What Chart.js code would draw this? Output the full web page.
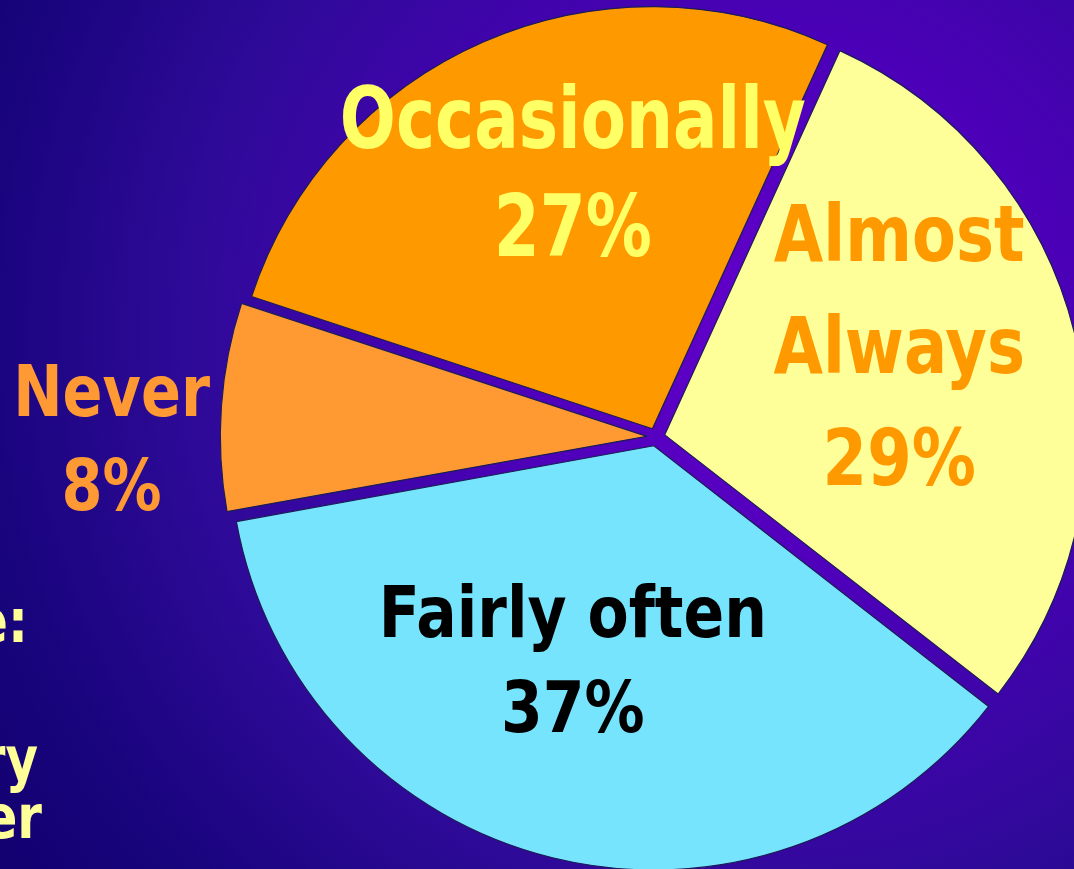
<!DOCTYPE html>
<html>
<head>
<meta charset="utf-8">
<script src="https://cdn.jsdelivr.net/npm/chart.js@4.4.1/dist/chart.umd.min.js"></script>
<style>
  html, body {
    margin: 0;
    padding: 0;
    width: 1074px;
    height: 869px;
    overflow: hidden;
    background: radial-gradient(circle at 72% 38%, #6400cc 0%, #4c00b8 30%, #2e0a98 62%, #18047c 85%, #120070 100%);
  }
  #pie { display: block; }
</style>
</head>
<body>
<canvas id="pie" width="1074" height="869"></canvas>
<script>
// slices, clockwise from the top-right gap
var categories = ['Almost Always', 'Fairly often', 'Never', 'Occasionally'];
var labelLines = [['Almost', 'Always'], ['Fairly often'], ['Never'], ['Occasionally']];
var percents = [29, 37, 8, 27];

var sliceColors = ['#FFFF99', '#77E4FD', '#FF9A33', '#FF9900'];

// text that belongs to the slide, cut off at the left edge
var sideText = ['e:', 'ry', 'er'];

// where each label sits: turn = degrees off the slice middle, dist = share of radius
var labelStyles = [
    { color: '#FF9900', size: 64, stretch: 1.22, gap: 112, turn: -7.1, dist: 0.617 },
    { color: '#000000', size: 60, stretch: 1.19, gap: 95, turn: 6.8, dist: 0.56 },
    { color: '#FF9933', size: 59, stretch: 1.21, gap: 94, turn: -4.0, dist: 1.29 },
    { color: '#FFFF66', size: 66, stretch: 1.3, gap: 108, turn: 6.3, dist: 0.662 }
];

var sliceLabels = {
    id: 'sliceLabels',
    afterDatasetsDraw: function(chart, args, opts) {
        var ctx = chart.ctx;
        var arcs = chart.getDatasetMeta(0).data;
        arcs.forEach(function(arc, i) {
            var st = opts.styles[i];
            var p = arc.getProps(['x', 'y', 'startAngle', 'endAngle', 'outerRadius'], true);
            var mid = (p.startAngle + p.endAngle) / 2 + st.turn * Math.PI / 180;
            var cx = p.x + Math.cos(mid) * p.outerRadius * st.dist;
            var cy = p.y + Math.sin(mid) * p.outerRadius * st.dist;
            var lines = opts.lines[i].concat([opts.values[i] + '%']);
            var capH = 0.729 * st.size * st.stretch;
            ctx.save();
            ctx.fillStyle = st.color;
            ctx.font = 'bold ' + st.size + 'px "Comic Sans MS", "DejaVu Sans", sans-serif';
            ctx.textAlign = 'center';
            ctx.textBaseline = 'alphabetic';
            lines.forEach(function(line, k) {
                var by = cy + capH / 2 + (k - (lines.length - 1) / 2) * st.gap;
                ctx.save();
                ctx.translate(cx, by);
                ctx.scale(1, st.stretch);
                ctx.fillText(line, 0, 0);
                ctx.restore();
            });
            ctx.restore();
        });
    },
    afterDraw: function(chart, args, opts) {
        var ctx = chart.ctx;
        var spots = [[28, 642], [38, 780], [42, 838]];
        ctx.save();
        ctx.fillStyle = '#FFFF99';
        ctx.font = 'bold 50px "Comic Sans MS", "DejaVu Sans", sans-serif';
        ctx.textAlign = 'right';
        opts.side.forEach(function(t, i) {
            ctx.save();
            ctx.translate(spots[i][0], spots[i][1]);
            ctx.scale(1, 1.2);
            ctx.fillText(t, 0, 0);
            ctx.restore();
        });
        ctx.restore();
    }
};

var ctx = document.getElementById('pie').getContext('2d');
var pieChart = new Chart(ctx, {
    type: 'pie',
    data: {
        labels: categories,
        datasets: [{
            data: percents,
            backgroundColor: sliceColors,
            borderColor: '#1c1c58',
            borderWidth: 1.2,
            offset: 36,   // arc offset is divided by 4 when drawn -> 9px
            clip: false
        }]
    },
    options: {
        responsive: false,
        animation: false,
        events: [],
        rotation: 24.5,
        radius: 422,
        layout: { padding: { left: 238, top: 5 } },
        plugins: {
            legend: { display: false },
            tooltip: { enabled: false },
            sliceLabels: {
                styles: labelStyles,
                lines: labelLines,
                values: percents,
                side: sideText
            }
        }
    },
    plugins: [sliceLabels]
});
</script>
</body>
</html>
